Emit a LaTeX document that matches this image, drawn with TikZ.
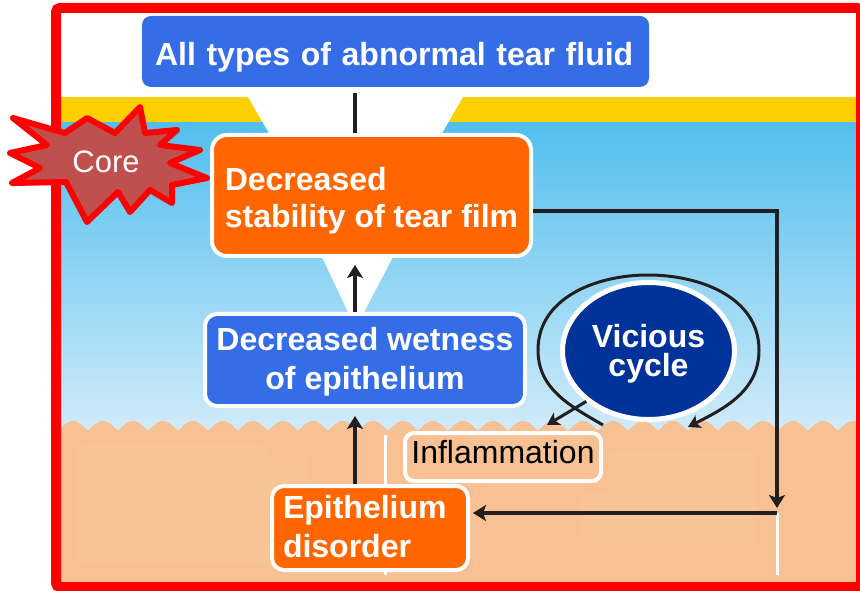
\documentclass[tikz,border=0pt]{standalone}
\usepackage{fontspec}
\setmainfont{Liberation Sans}
\usetikzlibrary{arrows.meta, positioning, calc, shapes.geometric}
\definecolor{boxblue}{RGB}{53, 109, 230}
\definecolor{boxorange}{RGB}{255, 102, 0}
\definecolor{cyclenavy}{RGB}{0, 51, 153}
\definecolor{framered}{RGB}{255, 0, 0}
\definecolor{corered}{RGB}{192, 80, 77}
\definecolor{lidyellow}{RGB}{252, 208, 0}
\definecolor{skytop}{RGB}{82, 190, 238}
\definecolor{skybot}{RGB}{208, 235, 249}
\definecolor{peach}{RGB}{247, 193, 147}
\definecolor{peachlt}{RGB}{248, 196, 150}
\definecolor{inkdark}{RGB}{35, 31, 32}

\begin{document}
\begin{tikzpicture}[
  x=1pt, y=1pt,
  hbox/.style={fill=boxblue, rounded corners=9pt, text=white, inner ysep=0pt,
    font=\fontsize{32}{37}\selectfont\bfseries},
  wbox/.style={draw=white, line width=4pt, inner ysep=0pt, text=white,
    font=\fontsize{32}{37}\selectfont\bfseries},
  conn/.style={draw=inkdark, line width=4pt},
  tip/.style={-{Stealth[length=13pt, width=16pt, inset=3pt]}},
  loopline/.style={draw=inkdark, line width=3pt, -{Stealth[length=12pt, width=14pt, inset=3pt]}}
]
  \useasboundingbox (0,0) rectangle (860,590);

  % background: lid, tear film, epithelium
  \fill[white] (61,8) rectangle (856,582);
  \fill[lidyellow] (61,467) rectangle (856,493);
  \shade[top color=skytop, bottom color=skybot] (61,160) rectangle (856,467);
  \fill[white] (248,493) -- (463,493) -- (438,450) -- (273,450) -- cycle;
  \fill[white] (321,335) -- (394,335) -- (363,276) -- (349,276) -- cycle;
  \fill[peach] (61,5) -- (61,159)
    -- plot[domain=61:856, samples=400] (\x, {159 + 10*abs(cos(6*(\x-103)))})
    -- (856,5) -- cycle;
  \fill[peachlt, rounded corners=15pt] (75,25) rectangle (268,148);
  \fill[peachlt, rounded corners=6pt] (75,25) rectangle (308,133);
  \fill[peachlt, rounded corners=10pt] (608,45) rectangle (757,140);
  \fill[peachlt, rounded corners=6pt] (582,47) rectangle (757,97);
  \draw[white, line width=3pt] (385,155) -- (385,15);

  \draw[framered, line width=10pt, rounded corners=4pt] (56,3) rectangle (861,582);

  % core star
  \draw[framered, line width=6pt, line join=round, fill=corered]
    (10,437) -- (47,445) -- (13,472) -- (65,457) -- (87,472) -- (115,457)
    -- (140,483) -- (145,457) -- (177,460) -- (160,445) -- (200,440)
    -- (170,427) -- (207,412) -- (172,405) -- (172,387) -- (150,400)
    -- (130,378) -- (118,398) -- (87,368) -- (66,408) -- (12,407)
    -- (40,422) -- cycle;
  \node[text=white, font=\fontsize{31}{31}\selectfont] (core) at (106,428) {Core};

  % boxes
  \node[hbox, text width=481pt, inner xsep=13pt, align=left, minimum height=71pt,
    text height=36pt, text depth=7pt] (fluid) at (395.5,538.5)
    {All types of abnormal tear fluid};
  \node[wbox, fill=boxorange, rounded corners=15pt, inner xsep=0pt, minimum width=319pt,
    minimum height=121pt, align=left] (film) at (371.5,394.5)
    {\rule{0pt}{33pt}Decreased\\stability of tear film};
  \node[wbox, fill=boxblue, rounded corners=12pt, inner xsep=0pt, minimum width=320pt,
    minimum height=92pt, align=center, font=\fontsize{32}{39}\selectfont\bfseries]
    (wet) at (365,230) {\rule{0pt}{26pt}Decreased wetness\\of epithelium};
  \node[wbox, fill=peach, rounded corners=9pt, text=black, inner sep=0pt,
    font=\fontsize{32}{37}\selectfont, minimum width=196pt, minimum height=48pt,
    text height=23pt, text depth=11pt] (infl) at (503,133) {Inflammation};
  \node[wbox, fill=boxorange, rounded corners=12pt, text width=174pt, inner xsep=11pt,
    minimum height=84pt, align=left, font=\fontsize{32}{39}\selectfont\bfseries]
    (epi) at (370,62) {Epithelium\\disorder\rule[-4pt]{0pt}{0pt}};
  \node[ellipse, draw=white, line width=5pt, fill=cyclenavy, text=white, inner sep=0pt,
    minimum width=172pt, minimum height=137pt, align=center,
    font=\fontsize{32}{29}\selectfont\bfseries] (cycle) at (648.5,239)
    {\rule{0pt}{28pt}Vicious\\cycle};

  % connectors
  \coordinate (axis) at (355,0);
  \coordinate (turn) at (777,77);
  \coordinate (tail) at (777,15);
  \coordinate (loopin) at (603,165);
  \coordinate (loopout) at (688,163);

  \draw[conn] ([yshift=-6pt]fluid.south -| axis) -- (film.north -| axis);
  \draw[conn, tip] (wet.north -| axis) -- ([yshift=-7pt]film.south -| axis);
  \draw[conn, tip] (epi.north -| axis) -- ([yshift=-8pt]wet.south -| axis);
  \draw[conn, tip] ([yshift=-16pt]film.east) -| ([yshift=5pt]turn);
  \draw[white, line width=3pt] (turn) -- (tail);
  \draw[conn, tip] (turn) -- ($(epi.east |- turn)+(3,0)$);

  \draw[loopline] (loopin) to[out=150, in=-90] (538,240) to[out=90, in=180] (648,315)
    to[out=0, in=90] (759,240) to[out=-90, in=27] (loopout);
  \draw[loopline] (cycle.219) -- ($(infl.north)+(44,6)$);
\end{tikzpicture}
\end{document}
